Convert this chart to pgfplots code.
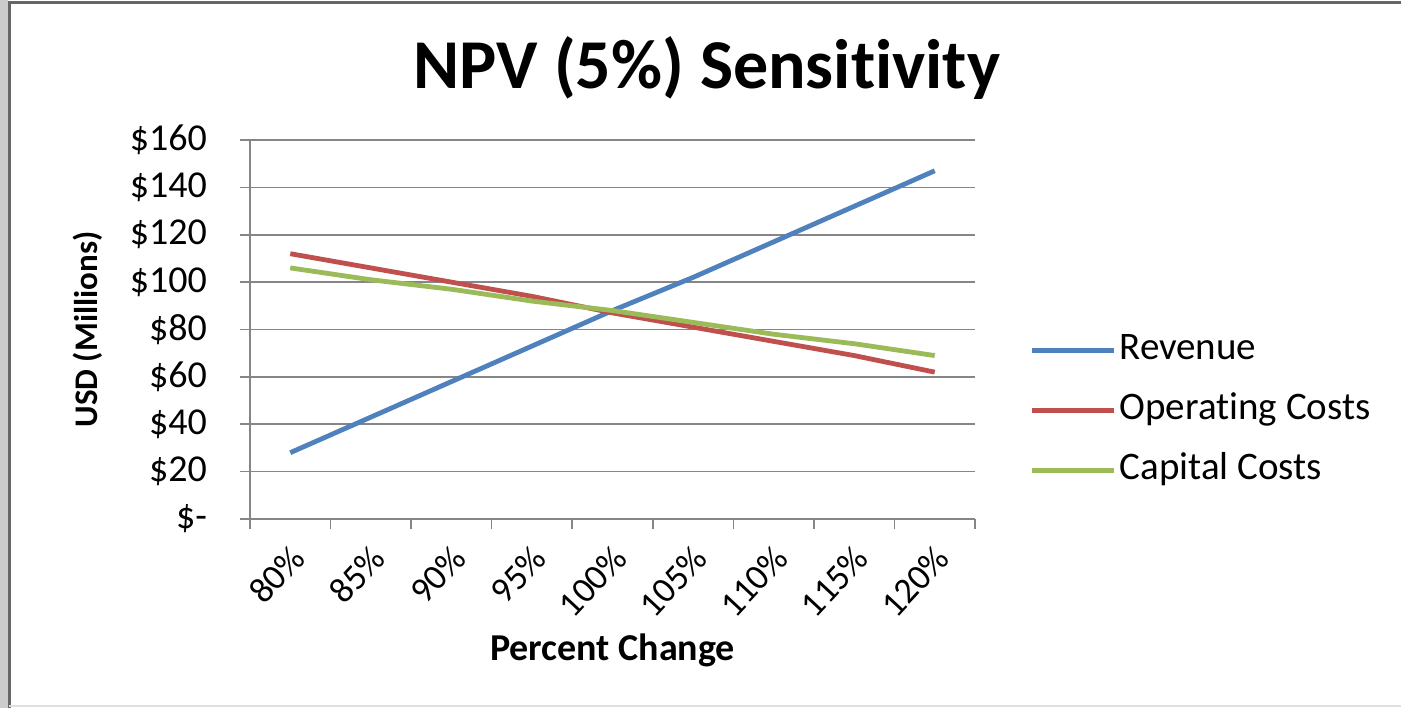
\documentclass[border=0pt]{standalone}
\usepackage{fontspec}
\setmainfont{Carlito}[Ligatures=NoCommon]
\usepackage{pgfplots}
\pgfplotsset{compat=1.18}
\definecolor{revblue}{HTML}{4F81BD}
\definecolor{opred}{HTML}{C0504D}
\definecolor{capgreen}{HTML}{9BBB59}
\definecolor{gridgray}{HTML}{868686}
\begin{document}
\begin{tikzpicture}
\path[use as bounding box] (0,0) rectangle (700.5pt,354pt);
\fill[white] (0,0) rectangle (700.5pt,354pt);
\fill[gray!40] (0,0) rectangle (4pt,354pt);
\draw[gray!80!black, line width=1.5pt] (4.5pt,0) -- (4.5pt,352.5pt) -- (700.5pt,352.5pt);
\draw[gray!25, line width=1pt] (4.5pt,1pt) -- (700.5pt,1pt);
\node[font=\fontsize{35}{40}\selectfont\bfseries] at (353.5pt,320pt) {NPV (5\%) Sensitivity};
\begin{axis}[
  at={(125pt,94.5pt)}, anchor=south west,
  scale only axis, width=362.5pt, height=189.5pt,
  xmin=-0.5, xmax=8.5, ymin=0, ymax=160,
  axis x line*=bottom, axis y line*=left,
  axis line style={gridgray, line width=0.8pt, -},
  tick align=outside,
  xtick={-0.5,0.5,...,8.5}, xticklabels={},
  major tick length=5pt,
  tick style={gridgray, line width=0.8pt},
  extra x ticks={0,1,...,8},
  extra x tick labels={80\%,85\%,90\%,95\%,100\%,105\%,110\%,115\%,120\%},
  extra x tick style={major tick length=0pt, grid=none,
    xticklabel style={rotate=47, anchor=east, xshift=-6pt, yshift=-14pt}},
  ytick={0,20,...,160},
  yticklabels={\$-\hspace{11pt},\$20,\$40,\$60,\$80,\$100,\$120,\$140,\$160},
  ymajorgrids, grid style={gridgray, line width=0.8pt},
  every tick label/.append style={font=\fontsize{18}{21}\selectfont, black},
  yticklabel style={xshift=-13pt, font=\fontsize{19}{22}\selectfont},
  xlabel={Percent Change}, ylabel={USD (Millions)},
  xlabel style={font=\fontsize{19}{22}\selectfont\bfseries, at={(axis description cs:0.5,-0.3456)}, anchor=center},
  ylabel style={font=\fontsize{16.5}{20}\selectfont\bfseries, at={(axis description cs:-0.2234,0.5)}, anchor=center, rotate=0},
  legend style={at={(axis description cs:1.075,0.2855)}, anchor=west, draw=none, fill=none,
    font=\fontsize{19.5}{23}\selectfont, inner sep=0pt,
    nodes={inner sep=1.5pt, text height=13pt, text depth=4pt}, row sep=10pt},
  legend cell align=left,
  legend image code/.code={\draw[#1] (0pt,0pt) -- (41pt,0pt);},
]
\addplot[revblue, line width=2.4pt] coordinates {(0,28) (1,43) (2,58) (3,73) (4,88) (5,102) (6,117) (7,132) (8,147)};
\addplot[opred, line width=2.4pt] coordinates {(0,112) (1,106) (2,100) (3,94) (4,87) (5,81) (6,75) (7,69) (8,62)};
\addplot[capgreen, line width=2.4pt] coordinates {(0,106) (1,101) (2,97) (3,92) (4,88) (5,83) (6,78) (7,74) (8,69)};
\legend{Revenue, Operating Costs, Capital Costs}
\end{axis}
\end{tikzpicture}
\end{document}
